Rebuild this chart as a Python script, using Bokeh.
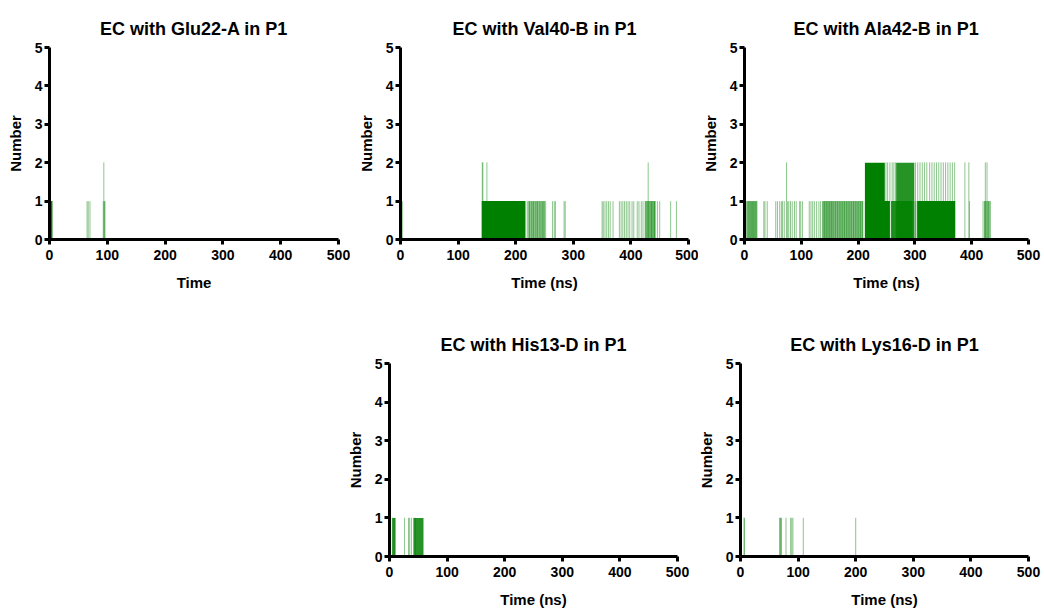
from bokeh.plotting import figure
from bokeh.layouts import row, column, Spacer
from bokeh.models import Range1d
from bokeh.embed import file_html
from bokeh.resources import INLINE

GREEN = "#008000"
FONT = "Liberation Sans"

x_ticks = [0, 100, 200, 300, 400, 500]
y_ticks = [0, 1, 2, 3, 4, 5]

titles = ["EC with Glu22-A in P1", "EC with Val40-B in P1", "EC with Ala42-B in P1",
          "EC with His13-D in P1", "EC with Lys16-D in P1"]
xlabels = ["Time", "Time (ns)", "Time (ns)", "Time (ns)", "Time (ns)"]

# Panel 1: Glu22-A
glu22_block_start = [2]
glu22_block_end = [5]
glu22_block_val = [1]
glu22_block_alpha = [1.0]
glu22_spike_t = [2, 3, 4, 65, 67, 70, 93, 94, 95, 96]
glu22_spike_v = [1, 1, 1, 1, 1, 1, 1, 2, 1, 1]

# Panel 2: Val40-B
val40_block_start = [141, 221, 424]
val40_block_end = [217, 251, 443]
val40_block_val = [1, 1, 1]
val40_block_alpha = [1.0, 0.45, 0.6]
val40_spike_t = [2, 3, 142, 143, 150, 220, 224, 228, 231, 235, 238, 242, 246, 249, 252,
                 264, 267, 269, 284, 286, 350, 352, 355, 358, 361, 364, 369, 380, 383, 386,
                 389, 392, 395, 398, 402, 405, 411, 414, 418, 421, 430, 436, 441, 446, 450,
                 469, 479]
val40_spike_v = [1, 1, 2, 2, 2, 1, 1, 1, 1, 1, 1, 1, 1, 1, 1,
                 1, 1, 1, 1, 1, 1, 1, 1, 1, 1, 1, 1, 1, 1, 1,
                 1, 1, 1, 1, 1, 1, 1, 1, 1, 1, 2, 1, 1, 1, 1,
                 1, 1]

# Panel 3: Ala42-B
ala42_block_start = [4, 137, 212, 212, 258, 267, 304, 422]
ala42_block_end = [22, 209, 247, 256, 296, 299, 371, 432]
ala42_block_val = [1, 1, 2, 1, 1, 2, 1, 1]
ala42_block_alpha = [0.45, 0.5, 1.0, 1.0, 0.85, 0.85, 1.0, 0.45]
ala42_spike_t = [2, 3, 6, 8, 10, 12, 14, 16, 18, 20, 22, 34, 36, 40, 55, 58, 62, 65, 67, 70,
                 74, 76, 78, 81, 84, 88, 91, 97, 99, 102, 114, 117, 120, 123, 127, 131, 134,
                 138, 141, 144, 147, 150, 153, 156, 160, 164, 168, 172, 176, 180, 184, 188,
                 192, 196, 200, 204, 208,
                 249, 252, 256, 260, 263, 266, 297, 300, 302, 301, 305, 309, 313, 317, 321,
                 326, 330, 334, 338, 342, 346, 350, 354, 358, 362, 366, 370, 388, 395, 396,
                 420, 423, 424, 427, 430, 433]
ala42_spike_v = [1, 1, 1, 1, 1, 1, 1, 1, 1, 1, 1, 1, 1, 1, 1, 1, 1, 1, 1, 1,
                 2, 1, 1, 1, 1, 1, 1, 1, 1, 1, 1, 1, 1, 1, 1, 1, 1,
                 1, 1, 1, 1, 1, 1, 1, 1, 1, 1, 1, 1, 1, 1, 1,
                 1, 1, 1, 1, 1,
                 2, 2, 2, 2, 2, 2, 1, 1, 1, 2, 2, 2, 2, 2, 2,
                 2, 2, 2, 2, 2, 2, 2, 2, 2, 2, 2, 2, 2, 2, 1,
                 1, 1, 2, 2, 1, 1]

# Panel 4: His13-D
his13_block_start = [5, 42]
his13_block_end = [10, 59]
his13_block_val = [1, 1]
his13_block_alpha = [0.8, 0.85]
his13_spike_t = [5, 6, 8, 10, 26, 33, 35, 38, 42, 45]
his13_spike_v = [1, 1, 1, 1, 1, 1, 1, 1, 1, 1]

# Panel 5: Lys16-D
lys16_block_start = []
lys16_block_end = []
lys16_block_val = []
lys16_block_alpha = []
lys16_spike_t = [6, 7, 68, 69, 70, 71, 79, 87, 89, 91, 109, 200]
lys16_spike_v = [1, 1, 1, 1, 1, 1, 1, 1, 1, 1, 1, 1]

panels = [
    (glu22_block_start, glu22_block_end, glu22_block_val, glu22_block_alpha, glu22_spike_t, glu22_spike_v),
    (val40_block_start, val40_block_end, val40_block_val, val40_block_alpha, val40_spike_t, val40_spike_v),
    (ala42_block_start, ala42_block_end, ala42_block_val, ala42_block_alpha, ala42_spike_t, ala42_spike_v),
    (his13_block_start, his13_block_end, his13_block_val, his13_block_alpha, his13_spike_t, his13_spike_v),
    (lys16_block_start, lys16_block_end, lys16_block_val, lys16_block_alpha, lys16_spike_t, lys16_spike_v),
]

# (width, height, left, right, top, bottom)
geom = [
    (350, 308, 49, 12, 47, 69),
    (348, 308, 50, 10, 47, 69),
    (346, 308, 41, 16, 47, 69),
    (349, 308, 49, 12, 55, 60),
    (355, 308, 51, 16, 55, 60),
]


def make_panel(i):
    bs, be, bv, ba, st, sv = panels[i]
    w, h, l, r, t, b = geom[i]
    p = figure(width=w, height=h, x_range=Range1d(0, 500), y_range=Range1d(0, 5),
               output_backend="svg", toolbar_location=None,
               min_border_left=l, min_border_right=r, min_border_top=t, min_border_bottom=b)
    p.outline_line_color = None
    p.xgrid.visible = False
    p.ygrid.visible = False
    p.title.text = titles[i]
    p.title.align = "center"
    p.title.text_font = FONT
    p.title.text_font_style = "bold"
    p.title.text_font_size = "18px"
    p.title.text_color = "black"
    p.title.standoff = 18

    if bs:
        p.quad(left=bs, right=be, bottom=[0] * len(bs), top=bv,
               fill_color=GREEN, fill_alpha=ba, line_color=None)
    p.segment(x0=st, y0=[0] * len(st), x1=st, y1=sv, line_color=GREEN,
              line_alpha=0.9, line_width=1, line_dash="1 1")

    for ax in (p.xaxis[0], p.yaxis[0]):
        ax.axis_line_width = 3
        ax.axis_line_color = "black"
        ax.major_tick_line_width = 3
        ax.major_tick_line_color = "black"
        ax.major_tick_in = 0
        ax.major_tick_out = 5
        ax.minor_tick_in = 0
        ax.minor_tick_out = 0
        ax.major_label_text_font = FONT
        ax.major_label_text_font_style = "bold"
        ax.major_label_text_font_size = "14px"
        ax.major_label_text_color = "black"
        ax.axis_label_text_font = FONT
        ax.axis_label_text_font_style = "bold"
        ax.axis_label_text_font_size = "15px"
        ax.axis_label_text_color = "black"
    p.xaxis.ticker = x_ticks
    p.yaxis.ticker = y_ticks
    p.xaxis.axis_label = xlabels[i]
    p.yaxis.axis_label = "Number"
    p.xaxis.major_label_standoff = 5
    p.yaxis.major_label_standoff = 2
    p.xaxis.axis_label_standoff = 11
    p.yaxis.axis_label_standoff = 8
    return p


figs = [make_panel(i) for i in range(5)]
layout = column(row(figs[0], figs[1], figs[2]),
                row(Spacer(width=340, height=308), figs[3], figs[4]))

open("out.html", "w").write(file_html(layout, INLINE))
